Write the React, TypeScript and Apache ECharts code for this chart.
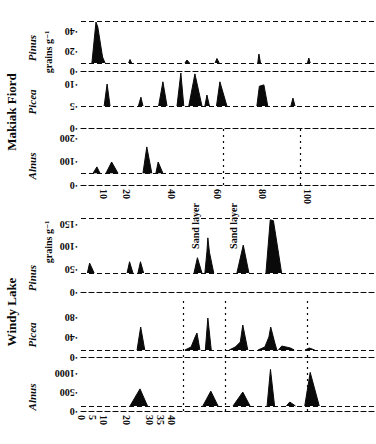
import React, { useEffect, useRef } from "react";
import * as echarts from "echarts";

// ---- data (depth in cm along x, grains g^-1 along y) ----
const makiakDepthLabels = [10, 20, 40, 60, 80, 100];
const windyDepthLabels = [0, 5, 10, 20, 30, 35, 40];

const makiakPinusTicks = [0, 20, 40];
const makiakPiceaTicks = [0, 5, 10];
const makiakAlnusTicks = [0, 100, 200];
const windyPinusTicks = [0, 50, 100, 150];
const windyPiceaTicks = [0, 40, 80];
const windyAlnusTicks = [0, 500, 1000];

const makiakPinusBase = 8;
const makiakPiceaBase = 5;
const makiakAlnusBase = 50;
const windyPinusBase = 42;
const windyPiceaBase = 14;
const windyAlnusBase = 135;

type Pt = [number, number] | null;

const makiakPinus: Pt[] = [
  [4.8, 8], [6.6, 49], [7.4, 44], [9.5, 14], [10.6, 8], null,
  [21, 8], [21.6, 11.5], [22.3, 8], null,
  [45.8, 8], [46.7, 11], [47.8, 8], null,
  [59.1, 8], [59.9, 12.5], [60.9, 8], null,
  [77.9, 8], [78.4, 17], [79.1, 8], null,
  [99.8, 8], [100.4, 13], [101, 8],
];
const makiakPicea: Pt[] = [
  [10.2, 5], [11.5, 10], [12.8, 5], null,
  [25.3, 5], [26.4, 7], [27.3, 5], null,
  [34.2, 5], [36.1, 10.5], [37.9, 5], null,
  [42.3, 5], [44, 12.5], [45.3, 5], null,
  [47.5, 5], [50.2, 12.3], [53.3, 5], null,
  [54.6, 5], [55.5, 7.5], [56.6, 5], null,
  [59.7, 5], [61.2, 10.5], [64.3, 5], null,
  [77.5, 5], [78.6, 9.5], [80.6, 9.8], [82.3, 5], null,
  [92.5, 5], [93.4, 6.8], [94.3, 5],
];
const makiakAlnus: Pt[] = [
  [5.3, 50], [7, 77], [8.4, 50], null,
  [11, 50], [13.5, 98], [16.3, 50], null,
  [27.3, 50], [29, 162], [31.2, 50], null,
  [33, 50], [34, 98], [36.1, 50],
];
const windyPinus: Pt[] = [
  [2.8, 42], [3.8, 64], [5.8, 42], null,
  [20.3, 42], [21.4, 67], [22.9, 42], null,
  [25.1, 42], [26.2, 67], [27.6, 42], null,
  [49.8, 42], [51.3, 76], [53.3, 42], null,
  [54.6, 42], [55.5, 90], [55.9, 120], [56.6, 88], [58.5, 42], null,
  [68.7, 42], [71.5, 104], [74, 42], null,
  [81.5, 42], [83.4, 160], [84.8, 158], [88.4, 42],
];
const windyPicea: Pt[] = [
  [24.7, 14], [26.3, 60], [28.1, 14], null,
  [45.8, 14], [48.5, 20], [50.3, 40], [51.1, 48], [52.4, 14], null,
  [54.8, 14], [55.9, 78], [57.4, 14], null,
  [65.3, 14], [68, 20], [70.2, 30], [71.3, 64], [73.5, 14], null,
  [78, 14], [81, 20], [82.8, 40], [83.6, 60], [85.3, 30], [86.3, 14], null,
  [87, 14], [88.5, 22], [92.3, 18], [94, 14], null,
  [98.7, 14], [100.6, 18], [103, 14],
];
const windyAlnus: Pt[] = [
  [21.6, 135], [26, 590], [29.3, 135], null,
  [53.7, 135], [57.2, 530], [60.4, 135], null,
  [67, 135], [71.3, 505], [74.5, 135], null,
  [82, 135], [83.5, 1110], [85.3, 135], null,
  [90.5, 135], [92, 240], [94.5, 135], null,
  [98.6, 135], [101, 1030], [105, 135],
];

const makiakBoundaries = [62.6, 96.5];
const windyBoundaries = [44.9, 63.4, 99.6];

// ---- layout ----
const INK = "#0a0a0a";
const SERIF = "'Liberation Serif', 'DejaVu Serif', serif";

type Panel = {
  top: number;
  height: number;
  max: number;
  ticks: number[];
  data: Pt[];
  base: number;
  topLine?: boolean;
  xLabels?: number[];
  vlines?: number[];
};

const panels: Panel[] = [
  { top: 21, height: 50, max: 50, ticks: makiakPinusTicks, data: makiakPinus, base: makiakPinusBase, topLine: true },
  { top: 73, height: 55, max: 12.5, ticks: makiakPiceaTicks, data: makiakPicea, base: makiakPiceaBase },
  { top: 128.6, height: 56.4, max: 240, ticks: makiakAlnusTicks, data: makiakAlnus, base: makiakAlnusBase, xLabels: makiakDepthLabels, vlines: makiakBoundaries },
  { top: 218, height: 74, max: 164, ticks: windyPinusTicks, data: windyPinus, base: windyPinusBase, topLine: true },
  { top: 297, height: 60, max: 120, ticks: windyPiceaTicks, data: windyPicea, base: windyPiceaBase, vlines: windyBoundaries },
  { top: 358.5, height: 52.5, max: 1400, ticks: windyAlnusTicks, data: windyAlnus, base: windyAlnusBase, xLabels: windyDepthLabels, vlines: windyBoundaries },
];

const dashed = { color: INK, width: 1.2, type: [5, 3] as any };

function vtext(text: string, x: number, y: number, size: number, opts: any = {}) {
  return {
    type: "text",
    x,
    y,
    rotation: Math.PI / 2,
    style: {
      text,
      fill: INK,
      font: `${opts.italic ? "italic " : ""}bold ${size}px ${SERIF}`,
      textAlign: "center",
      textVerticalAlign: "middle",
    },
  };
}

export default function App() {
  const ref = useRef<HTMLDivElement>(null);
  useEffect(() => {
    if (!ref.current) return;
    const chart = echarts.init(ref.current, null, { renderer: "svg" });

    const grid = panels.map((p) => ({ left: 81, right: 0, top: p.top, height: p.height }));
    const xAxis = panels.map((p, i) => ({
      type: "value",
      gridIndex: i,
      min: 0,
      max: 130,
      axisLine: { show: true, lineStyle: dashed },
      axisTick: { show: false },
      splitLine: { show: false },
      axisLabel: p.xLabels
        ? {
            show: true,
            customValues: p.xLabels,
            rotate: -90,
            color: INK,
            fontFamily: SERIF,
            fontWeight: "bold",
            fontSize: 10,
            margin: 4,
          }
        : { show: false },
    }));
    const yAxis = panels.map((p, i) => ({
      type: "value",
      gridIndex: i,
      min: 0,
      max: p.max,
      interval: p.ticks[1] - p.ticks[0],
      axisLine: { show: false },
      axisTick: { show: false },
      splitLine: { show: false },
      axisLabel: {
        show: true,
        rotate: 180,
        color: INK,
        fontFamily: SERIF,
        fontWeight: "bold",
        fontSize: 10,
        margin: 3,
        showMaxLabel: false,
        formatter: (v: number) => (p.ticks.indexOf(v) >= 0 ? `·${v}` : ""),
      },
    }));
    const series = panels.map((p, i) => {
      const lines: any[] = [{ yAxis: p.base, lineStyle: dashed }];
      if (p.topLine) lines.push({ yAxis: p.max, lineStyle: dashed });
      (p.vlines || []).forEach((v) =>
        lines.push({ xAxis: v, lineStyle: { color: INK, width: 1.2, type: [2, 4] } })
      );
      return {
        type: "line",
        xAxisIndex: i,
        yAxisIndex: i,
        data: p.data.map((d) => (d ? d : [null, null])),
        connectNulls: false,
        showSymbol: false,
        symbol: "none",
        lineStyle: { color: INK, width: 1 },
        areaStyle: { color: INK, opacity: 1, origin: p.base },
        markLine: { silent: true, symbol: "none", label: { show: false }, data: lines },
      };
    });

    const graphic = [
      vtext("Makiak Fiord", 11, 112, 13),
      vtext("Windy Lake", 11, 312, 13),
      vtext("Pinus", 32, 48, 11, { italic: true }),
      vtext("Picea", 32, 102, 11, { italic: true }),
      vtext("Alnus", 32, 166, 11, { italic: true }),
      vtext("Pinus", 32, 278, 11, { italic: true }),
      vtext("Picea", 32, 335, 11, { italic: true }),
      vtext("Alnus", 32, 397, 11, { italic: true }),
      vtext("grains g⁻¹", 48, 52, 10),
      vtext("grains g⁻¹", 48, 242, 10),
      vtext("Sand layer", 195, 226, 10),
      vtext("Sand layer", 233, 226, 10),
    ];

    chart.setOption({
      animation: false,
      backgroundColor: "#ffffff",
      grid,
      xAxis,
      yAxis,
      series,
      graphic,
    });
    return () => chart.dispose();
  }, []);
  return (
    <div
      ref={ref}
      style={{ position: "fixed", left: 0, top: 0, width: 376, height: 444, background: "#fff" }}
    />
  );
}
